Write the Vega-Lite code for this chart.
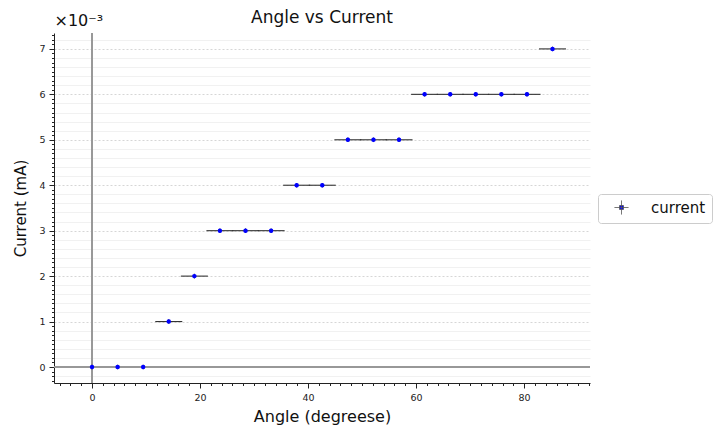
{
  "$schema": "https://vega.github.io/schema/vega-lite/v6.json",
  "width": 536,
  "height": 350,
  "autosize": "none",
  "padding": {"left": 54, "top": 33, "right": 125, "bottom": 50},
  "background": "white",
  "config": {
    "font": "DejaVu Sans",
    "view": {"stroke": null},
    "axis": {"labelFont": "DejaVu Sans", "titleFont": "DejaVu Sans", "titleFontWeight": "normal", "labelColor": "#222", "titleColor": "#111"}
  },
  "title": {"text": "Angle vs Current", "fontSize": 17, "fontWeight": "normal", "font": "DejaVu Sans", "color": "#111", "offset": 8, "dy": 23, "anchor": "middle"},
  "data": {
    "values": [
      {"angle": 0.0, "current": 0.000, "xerr": 2.5, "yerr": 0.00005, "series": "current"},
      {"angle": 4.74, "current": 0.000, "xerr": 2.5, "yerr": 0.00005, "series": "current"},
      {"angle": 9.47, "current": 0.000, "xerr": 2.5, "yerr": 0.00005, "series": "current"},
      {"angle": 14.21, "current": 0.001, "xerr": 2.5, "yerr": 0.00005, "series": "current"},
      {"angle": 18.95, "current": 0.002, "xerr": 2.5, "yerr": 0.00005, "series": "current"},
      {"angle": 23.68, "current": 0.003, "xerr": 2.5, "yerr": 0.00005, "series": "current"},
      {"angle": 28.42, "current": 0.003, "xerr": 2.5, "yerr": 0.00005, "series": "current"},
      {"angle": 33.16, "current": 0.003, "xerr": 2.5, "yerr": 0.00005, "series": "current"},
      {"angle": 37.89, "current": 0.004, "xerr": 2.5, "yerr": 0.00005, "series": "current"},
      {"angle": 42.63, "current": 0.004, "xerr": 2.5, "yerr": 0.00005, "series": "current"},
      {"angle": 47.37, "current": 0.005, "xerr": 2.5, "yerr": 0.00005, "series": "current"},
      {"angle": 52.11, "current": 0.005, "xerr": 2.5, "yerr": 0.00005, "series": "current"},
      {"angle": 56.84, "current": 0.005, "xerr": 2.5, "yerr": 0.00005, "series": "current"},
      {"angle": 61.58, "current": 0.006, "xerr": 2.5, "yerr": 0.00005, "series": "current"},
      {"angle": 66.32, "current": 0.006, "xerr": 2.5, "yerr": 0.00005, "series": "current"},
      {"angle": 71.05, "current": 0.006, "xerr": 2.5, "yerr": 0.00005, "series": "current"},
      {"angle": 75.79, "current": 0.006, "xerr": 2.5, "yerr": 0.00005, "series": "current"},
      {"angle": 80.53, "current": 0.006, "xerr": 2.5, "yerr": 0.00005, "series": "current"},
      {"angle": 85.26, "current": 0.007, "xerr": 2.5, "yerr": 0.00005, "series": "current"}
    ]
  },
  "resolve": {"axis": {"x": "independent", "y": "independent"}},
  "layer": [
    {
      "mark": {"type": "errorbar", "ticks": false, "color": "#333", "thickness": 1.1},
      "encoding": {
        "x": {"field": "angle", "type": "quantitative", "scale": {"domain": [-7.04, 92.2], "nice": false, "zero": false},
          "axis": {"orient": "bottom", "values": [-6,-4,-2,0,2,4,6,8,10,12,14,16,18,20,22,24,26,28,30,32,34,36,38,40,42,44,46,48,50,52,54,56,58,60,62,64,66,68,70,72,74,76,78,80,82,84,86,88,90,92], "labels": false, "tickSize": 2.5, "tickColor": "#222", "tickWidth": 1, "grid": false, "domain": false, "title": null}},
        "xError": {"field": "xerr"},
        "y": {"field": "current", "type": "quantitative", "scale": {"domain": [-0.000352, 0.00735], "nice": false, "zero": false},
          "axis": {"orient": "left", "values": [-0.0002,0.0002,0.0004,0.0006,0.0008,0.0012,0.0014,0.0016,0.0018,0.0022,0.0024,0.0026,0.0028,0.0032,0.0034,0.0036,0.0038,0.0042,0.0044,0.0046,0.0048,0.0052,0.0054,0.0056,0.0058,0.0062,0.0064,0.0066,0.0068,0.0072], "labels": false, "ticks": false, "domain": false, "grid": true, "gridColor": "#eeeeee", "gridWidth": 0.8, "title": null}}
      }
    },
    {
      "mark": {"type": "rule", "color": "#999", "strokeWidth": 1.3},
      "encoding": {"x": {"datum": 0, "type": "quantitative", "axis": null}}
    },
    {
      "mark": {"type": "rule", "color": "#999", "strokeWidth": 1.3},
      "encoding": {"y": {"datum": 0, "type": "quantitative", "axis": null}}
    },
    {
      "mark": {"type": "errorbar", "ticks": false, "color": "#333", "thickness": 1.1},
      "encoding": {
        "x": {"field": "angle", "type": "quantitative", "axis": null},
        "y": {"field": "current", "type": "quantitative",
          "axis": {"orient": "left", "values": [-0.0003,-0.0002,-0.0001,0.0001,0.0002,0.0003,0.0004,0.0005,0.0006,0.0007,0.0008,0.0009,0.0011,0.0012,0.0013,0.0014,0.0015,0.0016,0.0017,0.0018,0.0019,0.0021,0.0022,0.0023,0.0024,0.0025,0.0026,0.0027,0.0028,0.0029,0.0031,0.0032,0.0033,0.0034,0.0035,0.0036,0.0037,0.0038,0.0039,0.0041,0.0042,0.0043,0.0044,0.0045,0.0046,0.0047,0.0048,0.0049,0.0051,0.0052,0.0053,0.0054,0.0055,0.0056,0.0057,0.0058,0.0059,0.0061,0.0062,0.0063,0.0064,0.0065,0.0066,0.0067,0.0068,0.0069,0.0071,0.0072,0.0073], "labels": false, "tickSize": 2.5, "tickColor": "#222", "grid": false, "domain": false,
            "title": "×10⁻³", "titleAngle": 0, "titleX": 0, "titleY": -5, "titleAlign": "left", "titleBaseline": "bottom", "titleFontSize": 16}},
        "yError": {"field": "yerr"}
      }
    },
    {
      "mark": {"type": "point", "filled": true, "shape": "circle", "size": 20, "opacity": 1},
      "encoding": {
        "x": {"field": "angle", "type": "quantitative", "title": "Angle (degreese)",
          "axis": {"orient": "bottom", "values": [0, 20, 40, 60, 80], "tickSize": 5, "tickColor": "#222", "domainColor": "#222", "labelFontSize": 9.5, "labelPadding": 4, "titleFontSize": 16, "titlePadding": 7, "grid": false}},
        "y": {"field": "current", "type": "quantitative", "title": "Current (mA)",
          "axis": {"orient": "left", "values": [0, 0.001, 0.002, 0.003, 0.004, 0.005, 0.006, 0.007], "labelExpr": "format(datum.value * 1000, 'd')", "tickSize": 5, "tickColor": "#222", "domainColor": "#222", "labelFontSize": 9.5, "labelPadding": 4, "titleFontSize": 15, "titlePadding": 10, "grid": true, "gridColor": "#cccccc", "gridDash": [2, 2], "gridWidth": 0.8}},
        "color": {"field": "series", "type": "nominal", "scale": {"range": ["blue"]},
          "legend": {"title": null, "orient": "none", "legendX": 544, "legendY": 161, "labelFontSize": 15, "labelFont": "DejaVu Sans", "labelColor": "#111",
            "symbolType": "M-1,0H1M0,-1V1M-0.28,-0.28H0.28V0.28H-0.28Z", "symbolSize": 200, "symbolOffset": 10, "symbolStrokeColor": "#555", "symbolStrokeWidth": 0.8,
            "strokeColor": "#cccccc", "cornerRadius": 3, "padding": 6, "labelOffset": 22, "fillColor": "white",
            "encode": {"symbols": {"update": {"stroke": {"value": "#555"}, "strokeWidth": {"value": 0.8}, "fill": {"value": "blue"}}}}}}
      }
    }
  ]
}
